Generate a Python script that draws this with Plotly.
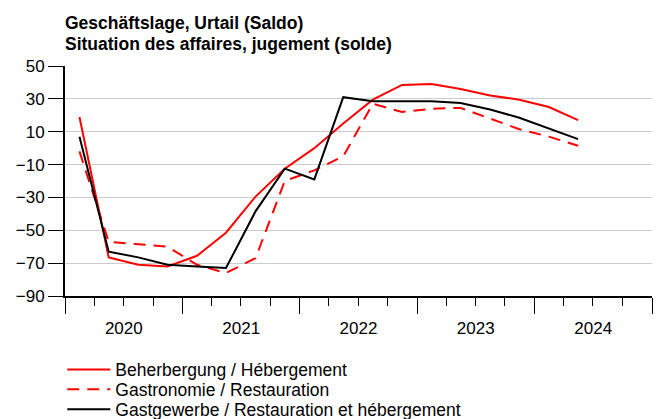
import plotly.graph_objects as go

quarters = ["2020-02-15", "2020-05-16", "2020-08-16", "2020-11-15",
            "2021-02-15", "2021-05-16", "2021-08-16", "2021-11-15",
            "2022-02-15", "2022-05-16", "2022-08-16", "2022-11-15",
            "2023-02-15", "2023-05-16", "2023-08-16", "2023-11-15",
            "2024-02-15", "2024-05-16"]

beherbergung = [19, -66.5, -71, -72, -65.5, -51.5, -29.5, -12.5, 0, 15,
                29.5, 38.5, 39, 36, 32, 29.5, 25, 17]
gastronomie = [-2, -57, -58.5, -60, -71, -76, -67, -20, -13.5, -5,
               27, 22, 24, 24.5, 18, 11.5, 7, 1.5]
gastgewerbe = [7, -63, -66.5, -71, -72, -73, -38.5, -12.5, -19, 31,
               28.5, 28.5, 28.5, 27.5, 23.5, 18.5, 12, 5.5]

names = ["Beherbergung / Hébergement",
         "Gastronomie / Restauration",
         "Gastgewerbe / Restauration et hébergement"]
y_ticks = [-90, -70, -50, -30, -10, 10, 30, 50]
title_lines = ["Geschäftslage, Urtail (Saldo)",
               "Situation des affaires, jugement (solde)"]

FONT = "Liberation Sans, Arial, sans-serif"

# the page body adds an 8px margin; lay the figure out in page pixels minus it
OFF = 8
W, H = 661 - OFF, 419 - OFF
plot_left, plot_right, plot_top, plot_bottom = 65, 652, 65.7, 296.3
ml = plot_left - OFF
mt = plot_top - OFF
mr = W - (plot_right - OFF)
mb = H - (plot_bottom - OFF)
pw = W - ml - mr
ph = H - mt - mb


def py(pix):
    return (H - mb - (pix - OFF)) / ph


def px(pix):
    return ((pix - OFF) - ml) / pw


fig = go.Figure()
fig.add_trace(go.Scatter(x=quarters, y=beherbergung, mode="lines", name=names[0],
                         line=dict(color="#ff0000", width=2), legend="legend"))
fig.add_trace(go.Scatter(x=quarters, y=gastronomie, mode="lines", name=names[1],
                         line=dict(color="#ff0000", width=2, dash="12px,8px"),
                         legend="legend2"))
fig.add_trace(go.Scatter(x=quarters, y=gastgewerbe, mode="lines", name=names[2],
                         line=dict(color="#000000", width=2), legend="legend3"))


def leg(yc):
    return dict(x=px(62.3), xanchor="left", y=py(yc), yanchor="middle",
                font=dict(size=17.5, family=FONT), bgcolor="rgba(0,0,0,0)",
                itemwidth=43, borderwidth=0)


fig.update_layout(
    width=W, height=H,
    margin=dict(l=ml, r=mr, t=mt, b=mb, autoexpand=False),
    paper_bgcolor="white", plot_bgcolor="white",
    font=dict(family=FONT, size=17, color="black"),
    showlegend=True,
    legend=leg(370), legend2=leg(390), legend3=leg(410),
    xaxis=dict(type="date", range=["2020-01-01", "2025-01-01"],
               tick0="2020-01-01", dtick="M12", tickformat="%Y",
               ticklabelmode="period", ticks="outside", ticklen=16,
               tickwidth=1.3, tickcolor="black",
               showline=True, linecolor="black", linewidth=2,
               showgrid=False, zeroline=False, automargin=False,
               minor=dict(dtick="M3", tick0="2020-01-01", ticks="outside",
                          ticklen=8, tickwidth=1.3, tickcolor="black",
                          showgrid=False),
               tickfont=dict(size=17)),
    yaxis=dict(range=[-90, 50], tickmode="array", tickvals=y_ticks,
               ticks="outside", ticklen=15, tickwidth=1.3, tickcolor="black",
               showline=True, linecolor="black", linewidth=2,
               showgrid=True, gridcolor="#cccccc", gridwidth=1.2,
               zeroline=False, automargin=False, tickfont=dict(size=17)),
    annotations=[
        dict(text="<b>%s</b>" % title_lines[0], xref="paper", yref="paper",
             x=-0.003, y=py(23), xanchor="left", yanchor="middle", showarrow=False,
             font=dict(size=17.5, family=FONT)),
        dict(text="<b>%s</b>" % title_lines[1], xref="paper", yref="paper",
             x=-0.003, y=py(43.3), xanchor="left", yanchor="middle", showarrow=False,
             font=dict(size=17.5, family=FONT)),
    ],
)

fig.write_html("out.html")
